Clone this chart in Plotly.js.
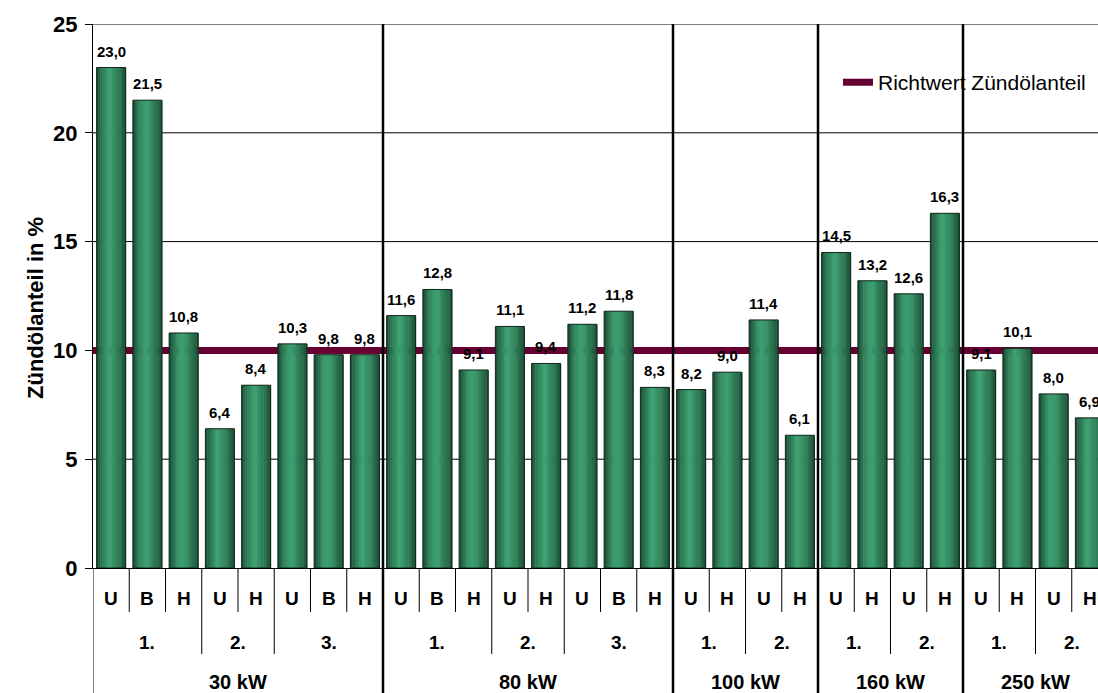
<!DOCTYPE html>
<html>
<head>
<meta charset="utf-8">
<script src="https://cdn.plot.ly/plotly-3.0.1.min.js"></script>
<style>
html,body{margin:0;padding:0;overflow:hidden;background:#fff;}
#chart{width:1110px;height:693px;}
</style>
</head>
<body>
<div id="chart"></div>
<script>
// ---- data ----
const letters = ['U','B','H','U','H','U','B','H',
                 'U','B','H','U','H','U','B','H',
                 'U','H','U','H',
                 'U','H','U','H',
                 'U','H','U','H'];
const level2 = ['1.','1.','1.','2.','2.','3.','3.','3.',
                '1.','1.','1.','2.','2.','3.','3.','3.',
                '1.','1.','2.','2.',
                '1.','1.','2.','2.',
                '1.','1.','2.','2.'];
const level3 = ['30 kW','30 kW','30 kW','30 kW','30 kW','30 kW','30 kW','30 kW',
                '80 kW','80 kW','80 kW','80 kW','80 kW','80 kW','80 kW','80 kW',
                '100 kW','100 kW','100 kW','100 kW',
                '160 kW','160 kW','160 kW','160 kW',
                '250 kW','250 kW','250 kW','250 kW'];
const values = [23.0, 21.5, 10.8, 6.4, 8.4, 10.3, 9.8, 9.8,
                11.6, 12.8, 9.1, 11.1, 9.4, 11.2, 11.8, 8.3,
                8.2, 9.0, 11.4, 6.1,
                14.5, 13.2, 12.6, 16.3,
                9.1, 10.1, 8.0, 6.9];
const richtwert = 10;
const richtwertName = 'Richtwert Zündölanteil';
const yTitle = 'Zündölanteil in %';
const yMax = 25, yStep = 5;

// ---- styling ----
const FONT = 'Arial, "Liberation Sans", sans-serif';
const idx = values.map((v, i) => i);
const BAR_W = 0.8;
const NSTRIP = 16;
const dark = [8, 34, 22], light = [60, 160, 112];
function shade(t) {
  const peak = 0.42;
  let b;
  if (t < peak) b = 0.15 + 0.85 * Math.pow(t / peak, 0.55);
  else b = 1 - 0.65 * Math.pow((t - peak) / (1 - peak), 1.3);
  const c = dark.map((d, k) => Math.round(d + (light[k] - d) * b));
  return 'rgb(' + c.join(',') + ')';
}

const traces = [];
const sw = BAR_W / NSTRIP;
for (let s = 0; s < NSTRIP; s++) {
  traces.push({
    type: 'bar', x: idx, y: values,
    width: sw * 1.25, offset: -BAR_W / 2 + s * sw,
    marker: {color: shade((s + 0.5) / NSTRIP), line: {width: 0}},
    showlegend: false, hoverinfo: 'skip'
  });
}
// outline
traces.push({
  type: 'bar', x: idx, y: values, width: BAR_W,
  marker: {color: 'rgba(0,0,0,0)', line: {color: '#10261a', width: 1}},
  showlegend: false, hoverinfo: 'skip'
});

const annotations = [];
// value labels
values.forEach((v, i) => {
  annotations.push({
    x: i, y: v, xref: 'x', yref: 'y', yanchor: 'bottom', yshift: 6,
    text: '<b>' + v.toFixed(1).replace('.', ',') + '</b>', showarrow: false,
    font: {family: FONT, size: 15, color: '#000'}
  });
});
// level 1 labels
letters.forEach((l, i) => {
  annotations.push({
    x: i, y: 0, xref: 'x', yref: 'paper', yanchor: 'middle', yshift: -30,
    text: '<b>' + l + '</b>', showarrow: false,
    font: {family: FONT, size: 19, color: '#000'}
  });
});
// group runs
function runs(arr, keyArr) {
  const out = [];
  let start = 0;
  const key = k => keyArr ? keyArr[k] + '|' + arr[k] : arr[k];
  for (let i = 1; i <= arr.length; i++) {
    if (i === arr.length || key(i) !== key(start)) {
      out.push({label: arr[start], start: start, end: i - 1});
      start = i;
    }
  }
  return out;
}
const runs2 = runs(level2, level3);
const runs3 = runs(level3);
runs2.forEach(r => {
  annotations.push({
    x: (r.start + r.end) / 2, y: 0, xref: 'x', yref: 'paper', yanchor: 'middle', yshift: -74,
    text: '<b>' + r.label + '</b>', showarrow: false,
    font: {family: FONT, size: 19, color: '#000'}
  });
});
runs3.forEach(r => {
  annotations.push({
    x: (r.start + r.end) / 2, y: 0, xref: 'x', yref: 'paper', yanchor: 'middle', yshift: -114,
    text: '<b>' + r.label + '</b>', showarrow: false,
    font: {family: FONT, size: 20, color: '#000'}
  });
});
// y-axis title (placed to match original position)
annotations.push({
  xref: 'paper', yref: 'paper', x: 0, y: 0.5, xanchor: 'center', yanchor: 'middle',
  xshift: -58, yshift: -12, textangle: -90,
  text: '<b>' + yTitle + '</b>', showarrow: false,
  font: {family: FONT, size: 22, color: '#000'}
});

// shapes
const PH = 544; // plot height px
const shapes = [];
// horizontal gridlines (below traces, below reference line)
for (let g = yStep; g <= yMax; g += yStep) {
  shapes.push({type: 'line', xref: 'paper', yref: 'y', x0: 0, x1: 1, y0: g, y1: g,
    line: {color: '#000', width: 1}, layer: 'below'});
}
// reference line
shapes.push({
  type: 'line', xref: 'paper', yref: 'y', x0: 0, x1: 1, y0: richtwert, y1: richtwert,
  line: {color: '#660033', width: 7}, layer: 'below',
  showlegend: true, name: richtwertName
});
const b2 = new Set(runs2.map(r => r.start));
const b3 = new Set(runs3.map(r => r.start));
for (let i = 0; i <= values.length; i++) {
  const xb = i - 0.5;
  if (i === 0 || i === values.length) {
    shapes.push({type: 'line', xref: 'x', yref: 'paper', x0: xb, x1: xb, y0: 0, y1: -125 / PH,
      line: {color: '#000', width: 1}});
  } else if (b3.has(i)) {
    shapes.push({type: 'line', xref: 'x', yref: 'paper', x0: xb, x1: xb, y0: -125 / PH, y1: 1,
      line: {color: '#000', width: 2.5}, layer: 'above'});
  } else if (b2.has(i)) {
    shapes.push({type: 'line', xref: 'x', yref: 'paper', x0: xb, x1: xb, y0: 0, y1: -86 / PH,
      line: {color: '#000', width: 1}});
  } else {
    shapes.push({type: 'line', xref: 'x', yref: 'paper', x0: xb, x1: xb, y0: 0, y1: -44 / PH,
      line: {color: '#000', width: 1}});
  }
}

const layout = {
  width: 1110, height: 693,
  margin: {l: 93, r: 2, t: 24, b: 125, pad: 0},
  paper_bgcolor: '#fff', plot_bgcolor: '#fff',
  barmode: 'overlay',
  font: {family: FONT, color: '#000'},
  showlegend: true,
  legend: {
    x: 0.734, y: 0.93, xanchor: 'left', yanchor: 'top',
    bgcolor: 'rgba(0,0,0,0)', borderwidth: 0,
    font: {family: FONT, size: 21, color: '#000'}
  },
  xaxis: {
    range: [-0.5, values.length - 0.5], showticklabels: false, ticks: '',
    showgrid: false, zeroline: false, showline: true, linecolor: '#000', linewidth: 1,
    fixedrange: true
  },
  yaxis: {
    range: [0, yMax], dtick: yStep, tick0: 0,
    showgrid: false,
    zeroline: false, showline: true, linecolor: '#000', linewidth: 1,
    ticks: 'outside', ticklen: 7, tickcolor: '#000',
    tickfont: {family: FONT, size: 22, color: '#000'},
    tickprefix: '<b>', ticksuffix: '</b>',
    ticklabelstandoff: 3,
    automargin: false, fixedrange: true
  },
  annotations: annotations,
  shapes: shapes
};

Plotly.newPlot('chart', traces, layout, {displayModeBar: false, staticPlot: true});
</script>
</body>
</html>
